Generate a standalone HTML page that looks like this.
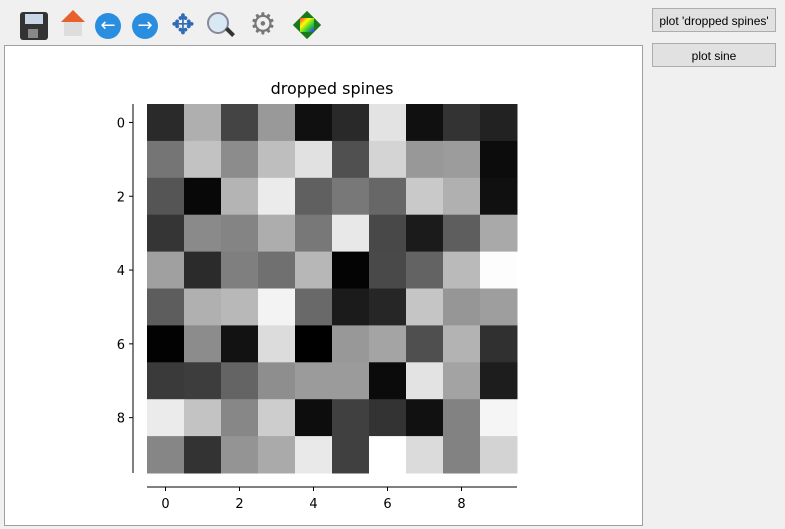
<!DOCTYPE html>
<html><head><meta charset="utf-8"><style>
body{margin:0;width:785px;height:529px;background:#f0f0f0;font-family:"DejaVu Sans","Liberation Sans",sans-serif;position:relative;overflow:hidden}
.btn{position:absolute;left:652px;width:124px;height:24px;border:1px solid #adadad;background:#e1e1e1;font-family:"Liberation Sans",sans-serif;font-size:12px;white-space:nowrap;text-align:center;line-height:24px;box-sizing:border-box;color:#000}
#fig{position:absolute;left:4px;top:45px;width:639px;height:481px;background:#fff;border:1px solid #a0a0a0;box-sizing:border-box}
.ic{position:absolute;top:10px;width:30px;height:30px}
</style></head><body>
<div style="position:absolute;left:0;top:0;width:645px;height:44px">
 <div class="ic" style="left:20px;top:12px;width:28px;height:28px;background:#333;border-radius:3px"><div style="position:absolute;left:5px;top:2px;width:18px;height:10px;background:#c9d6e8"></div><div style="position:absolute;left:8px;top:17px;width:10px;height:9px;background:#888"></div></div>
 <div class="ic" style="left:58px"><div style="position:absolute;left:3px;top:0;width:0;height:0;border-left:12px solid transparent;border-right:12px solid transparent;border-bottom:12px solid #e8602c"></div><div style="position:absolute;left:6px;top:12px;width:18px;height:14px;background:#ddd"></div></div>
 <div class="ic" style="left:95px;top:13px;width:26px;height:26px;border-radius:50%;background:#2a8ee0;color:#fff;font-size:18px;line-height:26px;text-align:center">←</div>
 <div class="ic" style="left:132px;top:13px;width:26px;height:26px;border-radius:50%;background:#2a8ee0;color:#fff;font-size:18px;line-height:26px;text-align:center">→</div>
 <div class="ic" style="left:168px;color:#2f6cb5;font-size:28px;line-height:30px;text-align:center">✥</div>
 <div class="ic" style="left:205px"><div style="position:absolute;left:2px;top:2px;width:18px;height:18px;border:2px solid #889;border-radius:50%;background:#d8e8f5"></div><div style="position:absolute;left:20px;top:20px;width:10px;height:4px;background:#333;transform:rotate(45deg)"></div></div>
 <div class="ic" style="left:248px;color:#777;font-size:30px;line-height:30px;text-align:center">⚙</div>
 <div class="ic" style="left:292px"><div style="position:absolute;left:5px;top:5px;width:20px;height:20px;background:#1a7a1a;transform:rotate(45deg)"></div><div style="position:absolute;left:8px;top:8px;width:14px;height:14px;background:linear-gradient(135deg,#f33,#ff0,#3c3,#33f)"></div></div>
</div>
<div class="btn" style="top:8px">plot 'dropped spines'</div>
<div class="btn" style="top:43px">plot sine</div>
<div id="fig"></div>
<svg id="chart" width="785" height="529" style="position:absolute;left:0;top:0" font-family="DejaVu Sans, Liberation Sans, sans-serif">
<text x="332" y="94" font-size="16" text-anchor="middle">dropped spines</text>
</svg>
<script>
const vals = [
 [0x2a,0xaf,0x44,0x99,0x10,0x29,0xe3,0x10,0x33,0x22],
 [0x75,0xc2,0x8c,0xbe,0xe1,0x50,0xd4,0x98,0x9c,0x0c],
 [0x55,0x08,0xb4,0xeb,0x60,0x78,0x67,0xc9,0xb0,0x10],
 [0x35,0x8a,0x84,0xad,0x78,0xe8,0x48,0x1b,0x5e,0xa9],
 [0xa0,0x2b,0x7f,0x70,0xb7,0x04,0x49,0x63,0xba,0xfd],
 [0x5d,0xb0,0xb8,0xf3,0x69,0x1b,0x26,0xc5,0x96,0x9e],
 [0x02,0x8c,0x12,0xdc,0x00,0x98,0xa4,0x4f,0xb3,0x30],
 [0x3a,0x3d,0x64,0x8e,0x9b,0x9b,0x0b,0xe3,0xa3,0x1d],
 [0xeb,0xc3,0x87,0xcd,0x0d,0x40,0x33,0x11,0x82,0xf5],
 [0x86,0x33,0x94,0xaa,0xe9,0x40,0xff,0xdb,0x82,0xd3]
];
const xTicks = [0,2,4,6,8];
const yTicks = [0,2,4,6,8];
const NS="http://www.w3.org/2000/svg", svg=document.getElementById('chart');
const x0=147,y0=104,cw=37,ch=36.9;
const xs=i=>x0+i*cw, ys=j=>y0+j*ch;
function mk(t,a){const e=document.createElementNS(NS,t);for(const k in a)e.setAttribute(k,a[k]);svg.appendChild(e);return e;}
const mn=Math.min(...vals.flat()), mx=Math.max(...vals.flat());
vals.forEach((row,j)=>row.forEach((v,i)=>{
 const g=Math.round((v-mn)/(mx-mn)*255);
 const r=mk('rect',{x:xs(i),y:ys(j),width:cw+0.5,height:ch+0.5,fill:`rgb(${g},${g},${g})`});
 
 
}));
const ys1=mk('line',{x1:133,y1:y0,x2:133,y2:ys(10),stroke:'#000','stroke-width':1});


const xs1=mk('line',{x1:x0,y1:487,x2:xs(10),y2:487,stroke:'#000','stroke-width':1});


xTicks.forEach(t=>{
 const cx=xs(t+0.5);
 mk('line',{x1:cx,y1:487,x2:cx,y2:491,stroke:'#000'});
 const tx=mk('text',{x:cx,y:508,'font-size':13,'text-anchor':'middle'});tx.textContent=t;
 
 
});
yTicks.forEach(t=>{
 const cy=ys(t+0.5);
 mk('line',{x1:129,y1:cy,x2:133,y2:cy,stroke:'#000'});
 const tx=mk('text',{x:125,y:cy+5,'font-size':13,'text-anchor':'end'});tx.textContent=t;
 
 
});
</script>
</body></html>
